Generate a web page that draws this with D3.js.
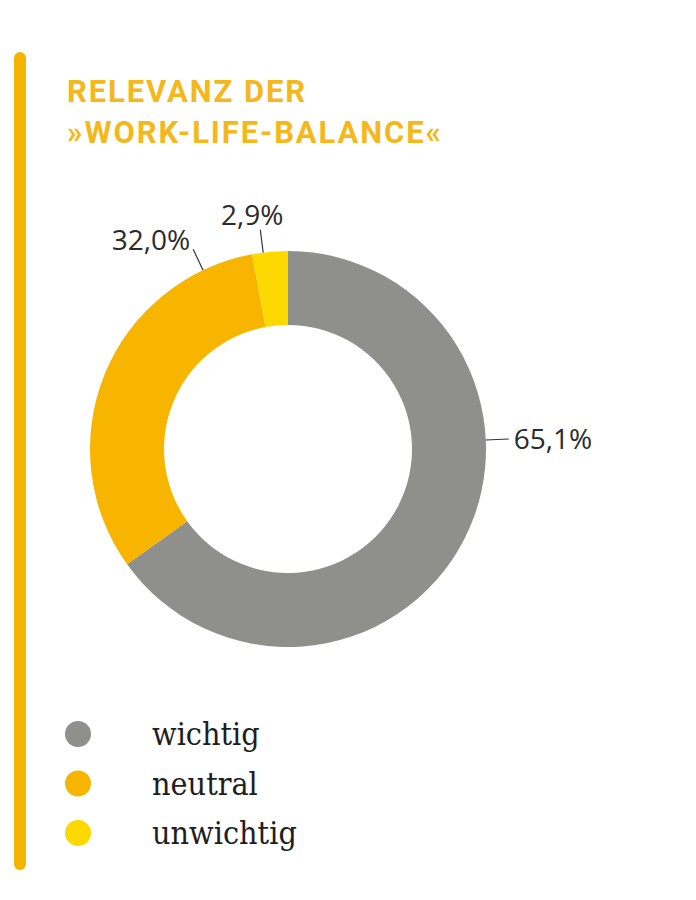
<!DOCTYPE html>
<html>
<head>
<meta charset="utf-8">
<script src="https://cdn.jsdelivr.net/npm/d3@7"></script>
<style>
  html, body { margin: 0; padding: 0; background: #fff; }
  .title { font-family: Roboto, sans-serif; font-weight: 700; font-size: 31px; letter-spacing: 1.9px; fill: #f4b71c; }
  .pct { font-family: "Open Sans", sans-serif; font-size: 28px; fill: #2b2b2b; }
  .legend-text { font-family: "DejaVu Serif", serif; font-stretch: condensed; font-size: 32px; fill: #1e1e1e; }
  .leader { stroke: #333; stroke-width: 1.2; fill: none; }
</style>
</head>
<body>
<svg id="chart" width="696" height="900"></svg>
<script>
// data
const categories = ["wichtig", "neutral", "unwichtig"];
const shares = [65.1, 32.0, 2.9];
const colors = ["#8f8f8b", "#f7b500", "#fdd900"];
const titleLines = ["RELEVANZ DER", "»WORK-LIFE-BALANCE«"];

// where the leaders sit (degrees clockwise from 12 o'clock) and how the text hangs off them
const labelLayout = [
  {angle: 87.4, anchor: "start", dx: 5, dy: 10},
  {angle: 334.6, anchor: "end", dx: -3, dy: 1},
  {angle: 352.8, anchor: "middle", dx: -8, dy: -5}
];

const width = 696, height = 900;
const cx = 288, cy = 449;
const outerR = 198, innerR = 124;
const leaderLen = 23;

const svg = d3.select("#chart");

const de = d3.formatLocale({decimal: ",", thousands: ".", grouping: [3], currency: ["", " €"]});
const fmt = v => de.format(".1f")(v) + "%";

// yellow bar on the left
svg.append("line")
  .attr("x1", 20).attr("x2", 20)
  .attr("y1", 58).attr("y2", 864)
  .attr("stroke", "#f5b400")
  .attr("stroke-width", 12)
  .attr("stroke-linecap", "round");

// title
svg.append("g")
  .selectAll("text")
  .data(titleLines)
  .join("text")
  .attr("class", "title")
  .attr("x", 67)
  .attr("y", (d, i) => 102 + i * 41)
  .text(d => d);

// donut
const pie = d3.pie().sort(null).value(d => d);
const arc = d3.arc().innerRadius(innerR).outerRadius(outerR);
const arcs = pie(shares);

const g = svg.append("g").attr("transform", `translate(${cx},${cy})`);

g.selectAll("path.slice")
  .data(arcs)
  .join("path")
  .attr("class", "slice")
  .attr("d", arc)
  .attr("fill", (d, i) => colors[i]);

const pt = (deg, r) => {
  const a = deg * Math.PI / 180;
  return [r * Math.sin(a), -r * Math.cos(a)];
};

const labels = g.selectAll("g.lbl")
  .data(arcs)
  .join("g")
  .attr("class", "lbl");

labels.append("line")
  .attr("class", "leader")
  .attr("x1", (d, i) => pt(labelLayout[i].angle, outerR)[0])
  .attr("y1", (d, i) => pt(labelLayout[i].angle, outerR)[1])
  .attr("x2", (d, i) => pt(labelLayout[i].angle, outerR + leaderLen)[0])
  .attr("y2", (d, i) => pt(labelLayout[i].angle, outerR + leaderLen)[1]);

labels.append("text")
  .attr("class", "pct")
  .attr("text-anchor", (d, i) => labelLayout[i].anchor)
  .attr("x", (d, i) => pt(labelLayout[i].angle, outerR + leaderLen)[0] + labelLayout[i].dx)
  .attr("y", (d, i) => pt(labelLayout[i].angle, outerR + leaderLen)[1] + labelLayout[i].dy)
  .text(d => fmt(d.data));

// legend
const legendY = d3.scalePoint().domain(categories).range([734, 833]);

const legend = svg.append("g")
  .selectAll("g")
  .data(categories)
  .join("g")
  .attr("transform", d => `translate(0,${legendY(d)})`);

legend.append("circle")
  .attr("cx", 78)
  .attr("r", 13)
  .attr("fill", (d, i) => colors[i]);

legend.append("text")
  .attr("class", "legend-text")
  .attr("x", 152)
  .attr("y", 11)
  .text(d => d);
</script>
</body>
</html>
